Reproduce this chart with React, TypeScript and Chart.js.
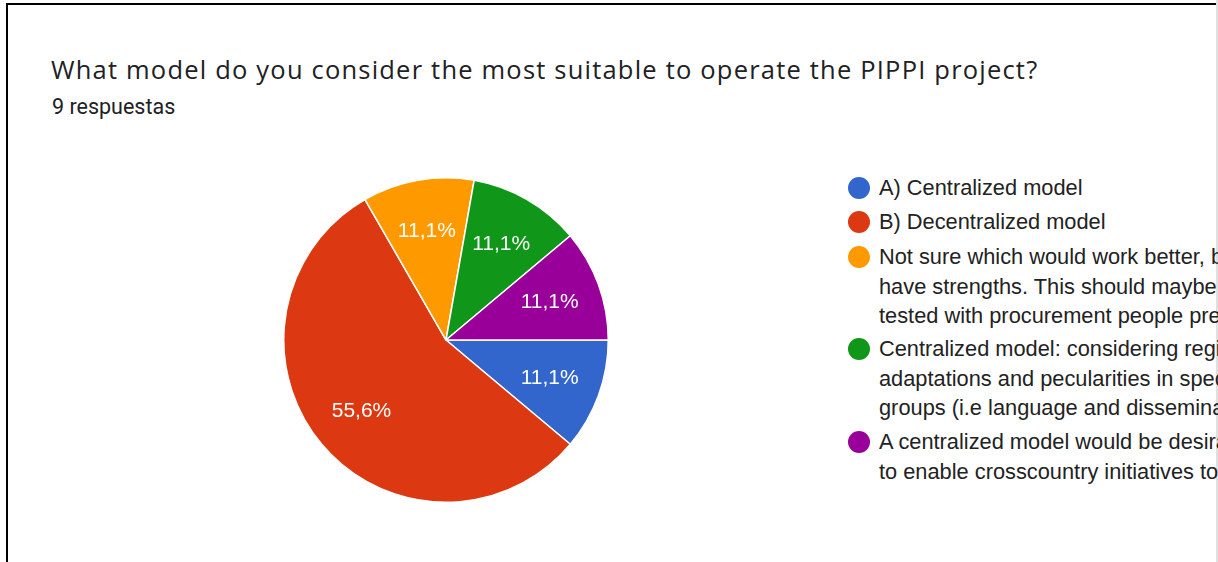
import React, { useEffect, useRef } from "react";
import { Chart, registerables } from "chart.js";

Chart.register(...registerables);

const title = "What model do you consider the most suitable to operate the PIPPI project?";
const subtitle = "9 respuestas";
const categories: string[][] = [
  ["A) Centralized model"],
  ["B) Decentralized model"],
  [
    "Not sure which would work better, both",
    "have strengths. This should maybe",
    "tested with procurement people previously",
  ],
  [
    "Centralized model: considering regional",
    "adaptations and pecularities in specific",
    "groups (i.e language and dissemination)",
  ],
  [
    "A centralized model would be desirable",
    "to enable crosscountry initiatives to",
  ],
];
const counts = [1, 5, 1, 1, 1];
const colors = ["#3366cc", "#dc3912", "#ff9900", "#109618", "#990099"];

const total = counts.reduce((a, b) => a + b, 0);
const percentLabels = counts.map(
  (c) => ((c / total) * 100).toFixed(1).replace(".", ",") + "%"
);

// first-line center y of each legend item
const legendItemY = [188, 222, 257, 349, 442];
const legendLineStep = 29.5;

const sliceLabels = {
  id: "sliceLabels",
  afterDatasetsDraw(chart: any) {
    const ctx = chart.ctx;
    const meta = chart.getDatasetMeta(0);
    ctx.save();
    ctx.fillStyle = "#ffffff";
    ctx.font = '21px "Liberation Sans", Arial, sans-serif';
    ctx.textAlign = "center";
    ctx.textBaseline = "middle";
    meta.data.forEach((arc: any, i: number) => {
      const p = arc.getProps(["x", "y", "startAngle", "endAngle", "outerRadius"], true);
      const mid = (p.startAngle + p.endAngle) / 2;
      const r = p.outerRadius * 0.68;
      ctx.fillText(percentLabels[i], p.x + Math.cos(mid) * r, p.y + Math.sin(mid) * r);
    });
    ctx.restore();
  },
};

export default function App() {
  const canvasRef = useRef<HTMLCanvasElement | null>(null);

  useEffect(() => {
    if (!canvasRef.current) return;
    const chart = new Chart(canvasRef.current, {
      type: "pie",
      data: {
        labels: categories.map((c) => c.join(" ")),
        datasets: [
          {
            data: counts,
            backgroundColor: colors,
            borderColor: "#ffffff",
            borderWidth: 1.5,
          },
        ],
      },
      options: {
        responsive: false,
        animation: false,
        rotation: 90,
        layout: { padding: 0 },
        plugins: {
          legend: { display: false },
          tooltip: { enabled: false },
          title: { display: false },
        },
      },
      plugins: [sliceLabels],
    });
    return () => chart.destroy();
  }, []);

  return (
    <div
      style={{
        position: "fixed",
        left: 0,
        top: 0,
        width: 1218,
        height: 562,
        overflow: "hidden",
        background: "#ffffff",
      }}
    >
      <div
        style={{
          position: "absolute",
          left: 6,
          top: 3,
          width: 1400,
          height: 700,
          border: "2px solid #000",
          boxSizing: "border-box",
        }}
      />
      <div
        style={{
          position: "absolute",
          left: 1216,
          top: 0,
          width: 2,
          height: 562,
          background: "#e0e0e0",
        }}
      />
      <div
        style={{
          position: "absolute",
          left: 51,
          top: 52,
          fontFamily: '"Open Sans", sans-serif',
          fontSize: 25.5,
          letterSpacing: 1.2,
          lineHeight: "34px",
          color: "#202124",
          whiteSpace: "nowrap",
        }}
      >
        {title}
      </div>
      <div
        style={{
          position: "absolute",
          left: 52,
          top: 94,
          fontFamily: "Roboto, sans-serif",
          fontSize: 21.5,
          lineHeight: "26px",
          color: "#202124",
          whiteSpace: "nowrap",
        }}
      >
        {subtitle}
      </div>
      <canvas
        ref={canvasRef}
        width={326}
        height={326}
        style={{ position: "absolute", left: 283, top: 177, width: 326, height: 326 }}
      />
      {categories.map((lines, i) => (
        <React.Fragment key={i}>
          <div
            style={{
              position: "absolute",
              left: 848,
              top: legendItemY[i] - 11,
              width: 22,
              height: 22,
              borderRadius: "50%",
              background: colors[i],
            }}
          />
          {lines.map((line, j) => (
            <div
              key={j}
              style={{
                position: "absolute",
                left: 879,
                top: legendItemY[i] + j * legendLineStep - 15,
                height: 30,
                lineHeight: "30px",
                fontFamily: '"Liberation Sans", Arial, sans-serif',
                fontSize: 21.8,
                color: "#222222",
                whiteSpace: "nowrap",
              }}
            >
              {line}
            </div>
          ))}
        </React.Fragment>
      ))}
    </div>
  );
}
